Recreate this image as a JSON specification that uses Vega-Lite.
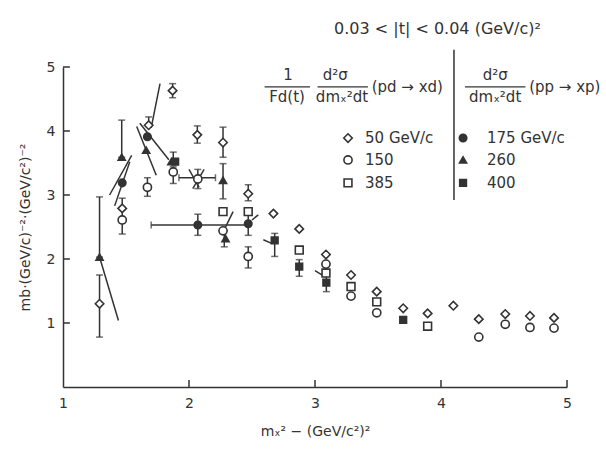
{
  "$schema": "https://vega.github.io/schema/vega-lite/v6.json",
  "width": 504,
  "height": 320,
  "autosize": {"type": "none"},
  "padding": {"left": 63, "top": 67, "right": 39, "bottom": 62},
  "background": "white",
  "title": {"text": "0.03 < |t| < 0.04 (GeV/c)²", "anchor": "start", "dx": 316, "offset": 12, "fontSize": 16, "font": "DejaVu Sans", "fontWeight": "normal", "color": "#333"},
  "config": {
    "view": {"stroke": null},
    "axis": {"domainColor": "#333", "domainWidth": 1.5, "ticks": false, "labelColor": "#333", "titleColor": "#333", "labelFont": "DejaVu Sans", "titleFont": "DejaVu Sans", "labelFontSize": 14, "titleFontSize": 14, "titleFontWeight": "normal", "grid": false}
  },
  "datasets": {
    "pts": [
      {"x": 1.29, "y": 1.30, "series": "50 GeV/c"},
      {"x": 1.47, "y": 2.79, "series": "50 GeV/c"},
      {"x": 1.68, "y": 4.09, "series": "50 GeV/c"},
      {"x": 1.87, "y": 4.63, "series": "50 GeV/c"},
      {"x": 2.066, "y": 3.94, "series": "50 GeV/c"},
      {"x": 2.27, "y": 3.82, "series": "50 GeV/c"},
      {"x": 2.47, "y": 3.02, "series": "50 GeV/c"},
      {"x": 2.67, "y": 2.71, "series": "50 GeV/c"},
      {"x": 2.875, "y": 2.47, "series": "50 GeV/c"},
      {"x": 3.087, "y": 2.07, "series": "50 GeV/c"},
      {"x": 3.286, "y": 1.75, "series": "50 GeV/c"},
      {"x": 3.49, "y": 1.49, "series": "50 GeV/c"},
      {"x": 3.70, "y": 1.23, "series": "50 GeV/c"},
      {"x": 3.894, "y": 1.15, "series": "50 GeV/c"},
      {"x": 4.098, "y": 1.27, "series": "50 GeV/c"},
      {"x": 4.30, "y": 1.06, "series": "50 GeV/c"},
      {"x": 4.51, "y": 1.14, "series": "50 GeV/c"},
      {"x": 4.706, "y": 1.11, "series": "50 GeV/c"},
      {"x": 4.897, "y": 1.08, "series": "50 GeV/c"},
      {"x": 1.47, "y": 2.61, "series": "150"},
      {"x": 1.67, "y": 3.12, "series": "150"},
      {"x": 1.875, "y": 3.36, "series": "150"},
      {"x": 2.07, "y": 3.25, "series": "150"},
      {"x": 2.27, "y": 2.44, "series": "150"},
      {"x": 2.47, "y": 2.04, "series": "150"},
      {"x": 3.087, "y": 1.92, "series": "150"},
      {"x": 3.286, "y": 1.42, "series": "150"},
      {"x": 3.49, "y": 1.16, "series": "150"},
      {"x": 4.30, "y": 0.78, "series": "150"},
      {"x": 4.51, "y": 0.98, "series": "150"},
      {"x": 4.706, "y": 0.93, "series": "150"},
      {"x": 4.897, "y": 0.92, "series": "150"},
      {"x": 2.27, "y": 2.74, "series": "385"},
      {"x": 2.47, "y": 2.74, "series": "385"},
      {"x": 2.875, "y": 2.14, "series": "385"},
      {"x": 3.087, "y": 1.78, "series": "385"},
      {"x": 3.286, "y": 1.57, "series": "385"},
      {"x": 3.49, "y": 1.33, "series": "385"},
      {"x": 3.894, "y": 0.95, "series": "385"},
      {"x": 1.47, "y": 3.19, "series": "175 GeV/c"},
      {"x": 1.67, "y": 3.91, "series": "175 GeV/c"},
      {"x": 2.07, "y": 2.53, "series": "175 GeV/c"},
      {"x": 2.47, "y": 2.55, "series": "175 GeV/c"},
      {"x": 1.29, "y": 2.03, "series": "260"},
      {"x": 1.466, "y": 3.59, "series": "260"},
      {"x": 1.66, "y": 3.70, "series": "260"},
      {"x": 1.86, "y": 3.52, "series": "260"},
      {"x": 2.27, "y": 3.23, "series": "260"},
      {"x": 2.29, "y": 2.32, "series": "260"},
      {"x": 1.89, "y": 3.52, "series": "400"},
      {"x": 2.68, "y": 2.29, "series": "400"},
      {"x": 2.875, "y": 1.88, "series": "400"},
      {"x": 3.09, "y": 1.63, "series": "400"},
      {"x": 3.70, "y": 1.05, "series": "400"}
    ],
    "legendpts": [
      {"x": 3.262, "y": 3.89, "series": "50 GeV/c"},
      {"x": 3.262, "y": 3.547, "series": "150"},
      {"x": 3.262, "y": 3.19, "series": "385"},
      {"x": 4.175, "y": 3.89, "series": "175 GeV/c"},
      {"x": 4.175, "y": 3.547, "series": "260"},
      {"x": 4.175, "y": 3.19, "series": "400"}
    ],
    "verr": [
      {"x": 1.87, "lo": 4.52, "hi": 4.74},
      {"x": 2.066, "lo": 3.81, "hi": 4.08},
      {"x": 2.27, "lo": 3.59, "hi": 4.06},
      {"x": 2.47, "lo": 2.91, "hi": 3.16},
      {"x": 1.875, "lo": 3.18, "hi": 3.44},
      {"x": 1.67, "lo": 2.98, "hi": 3.27},
      {"x": 1.466, "lo": 3.59, "hi": 4.17},
      {"x": 1.47, "lo": 2.39, "hi": 2.95},
      {"x": 1.29, "lo": 2.03, "hi": 2.97},
      {"x": 1.29, "lo": 0.78, "hi": 1.75},
      {"x": 2.27, "lo": 2.94, "hi": 3.49},
      {"x": 2.07, "lo": 2.37, "hi": 2.70},
      {"x": 2.47, "lo": 2.37, "hi": 2.70},
      {"x": 2.47, "lo": 1.86, "hi": 2.19},
      {"x": 2.68, "lo": 2.04, "hi": 2.40},
      {"x": 2.875, "lo": 1.73, "hi": 1.99},
      {"x": 3.09, "lo": 1.49, "hi": 1.80},
      {"x": 2.28, "lo": 2.19, "hi": 2.44},
      {"x": 1.68, "lo": 4.09, "hi": 4.22},
      {"x": 1.875, "lo": 3.52, "hi": 3.67},
      {"x": 2.07, "lo": 3.10, "hi": 3.40}
    ],
    "herr": [
      {"y": 2.53, "xlo": 1.70, "xhi": 2.47},
      {"y": 3.27, "xlo": 1.92, "xhi": 2.21}
    ],
    "slants": [
      {"x1": 1.29, "y1": 2.03, "x2": 1.44, "y2": 1.04},
      {"x1": 1.545, "y1": 3.62, "x2": 1.37, "y2": 3.0},
      {"x1": 1.53, "y1": 3.52, "x2": 1.41, "y2": 2.83},
      {"x1": 1.77, "y1": 4.74, "x2": 1.70, "y2": 4.05},
      {"x1": 1.585, "y1": 4.07, "x2": 1.74, "y2": 3.31},
      {"x1": 1.61, "y1": 4.12, "x2": 1.84, "y2": 3.55},
      {"x1": 2.28, "y1": 2.46, "x2": 2.35, "y2": 2.74},
      {"x1": 2.50, "y1": 2.61, "x2": 2.55, "y2": 2.69},
      {"x1": 2.59, "y1": 2.30, "x2": 2.66, "y2": 2.24},
      {"x1": 3.00, "y1": 1.82, "x2": 3.08, "y2": 1.72},
      {"x1": 2.00, "y1": 3.40, "x2": 2.08, "y2": 3.12},
      {"x1": 2.12, "y1": 3.40, "x2": 2.03, "y2": 3.10}
    ],
    "centertext": [
      {"x": 2.786, "y": 4.875, "label": "1"},
      {"x": 2.778, "y": 4.53, "label": "Fd(t)"},
      {"x": 3.16, "y": 4.875, "label": "d²σ"},
      {"x": 3.214, "y": 4.53, "label": "dmₓ²dt"},
      {"x": 4.43, "y": 4.875, "label": "d²σ"},
      {"x": 4.43, "y": 4.53, "label": "dmₓ²dt"}
    ],
    "lefttext": [
      {"x": 3.45, "y": 4.69, "label": "(pd → xd)"},
      {"x": 4.70, "y": 4.69, "label": "(pp → xp)"},
      {"x": 3.397, "y": 3.89, "label": "50 GeV/c"},
      {"x": 3.397, "y": 3.547, "label": "150"},
      {"x": 3.397, "y": 3.19, "label": "385"},
      {"x": 4.365, "y": 3.89, "label": "175 GeV/c"},
      {"x": 4.365, "y": 3.547, "label": "260"},
      {"x": 4.365, "y": 3.19, "label": "400"}
    ],
    "bars": [
      {"xa": 2.60, "xb": 2.96, "y": 4.69},
      {"xa": 3.02, "xb": 3.42, "y": 4.69},
      {"xa": 4.19, "xb": 4.67, "y": 4.69}
    ],
    "sep": [
      {"x": 4.103, "ya": 2.92, "yb": 5.27}
    ],
    "xticks": [{"v": 2, "a": 0, "b": 0.11}, {"v": 3, "a": 0, "b": 0.11}, {"v": 4, "a": 0, "b": 0.11}, {"v": 5, "a": 0, "b": 0.11}],
    "yticks": [{"v": 1, "a": 1, "b": 1.055}, {"v": 2, "a": 1, "b": 1.055}, {"v": 3, "a": 1, "b": 1.055}, {"v": 4, "a": 1, "b": 1.055}, {"v": 5, "a": 1, "b": 1.055}]
  },
  "layer": [
    {
      "data": {"name": "slants"},
      "mark": {"type": "rule", "color": "#333", "strokeWidth": 1.5},
      "encoding": {
        "x": {"field": "x1", "type": "quantitative", "title": "mₓ² − (GeV/c²)²", "scale": {"domain": [1, 5], "nice": false, "zero": false}, "axis": {"values": [1, 2, 3, 4, 5], "format": "d", "labelPadding": 9, "titlePadding": 14, "labelFlush": false}},
        "y": {"field": "y1", "type": "quantitative", "title": "mb·(GeV/c)⁻²·(GeV/c²)⁻²", "scale": {"domain": [0, 5], "nice": false, "zero": false}, "axis": {"values": [1, 2, 3, 4, 5], "format": "d", "labelPadding": 8, "titlePadding": 14}},
        "x2": {"field": "x2"},
        "y2": {"field": "y2"}
      }
    },
    {
      "data": {"name": "xticks"},
      "mark": {"type": "rule", "color": "#333", "strokeWidth": 1.5},
      "encoding": {
        "x": {"field": "v", "type": "quantitative", "title": "mₓ² − (GeV/c²)²"},
        "y": {"field": "a", "type": "quantitative", "title": "mb·(GeV/c)⁻²·(GeV/c²)⁻²"},
        "y2": {"field": "b"}
      }
    },
    {
      "data": {"name": "yticks"},
      "mark": {"type": "rule", "color": "#333", "strokeWidth": 1.5},
      "encoding": {
        "x": {"field": "a", "type": "quantitative", "title": "mₓ² − (GeV/c²)²"},
        "x2": {"field": "b"},
        "y": {"field": "v", "type": "quantitative", "title": "mb·(GeV/c)⁻²·(GeV/c²)⁻²"}
      }
    },
    {
      "data": {"name": "verr"},
      "mark": {"type": "errorbar", "ticks": {"size": 7, "color": "#333", "thickness": 1.5}, "rule": {"color": "#333", "strokeWidth": 1.5}},
      "encoding": {
        "x": {"field": "x", "type": "quantitative", "title": "mₓ² − (GeV/c²)²"},
        "y": {"field": "lo", "type": "quantitative", "title": "mb·(GeV/c)⁻²·(GeV/c²)⁻²"},
        "y2": {"field": "hi"}
      }
    },
    {
      "data": {"name": "herr"},
      "mark": {"type": "errorbar", "ticks": {"size": 7, "color": "#333", "thickness": 1.5}, "rule": {"color": "#333", "strokeWidth": 1.5}},
      "encoding": {
        "y": {"field": "y", "type": "quantitative", "title": "mb·(GeV/c)⁻²·(GeV/c²)⁻²"},
        "x": {"field": "xlo", "type": "quantitative", "title": "mₓ² − (GeV/c²)²"},
        "x2": {"field": "xhi"}
      }
    },
    {
      "data": {"name": "pts"},
      "mark": {"type": "point", "stroke": "#333", "strokeWidth": 1.6, "opacity": 1},
      "encoding": {
        "x": {"field": "x", "type": "quantitative", "title": "mₓ² − (GeV/c²)²"},
        "y": {"field": "y", "type": "quantitative", "title": "mb·(GeV/c)⁻²·(GeV/c²)⁻²"},
        "shape": {"field": "series", "type": "nominal", "scale": {"domain": ["50 GeV/c", "150", "385", "175 GeV/c", "260", "400"], "range": ["diamond", "circle", "square", "circle", "triangle-up", "square"]}, "legend": null},
        "fill": {"field": "series", "type": "nominal", "scale": {"domain": ["50 GeV/c", "150", "385", "175 GeV/c", "260", "400"], "range": ["white", "white", "white", "#333", "#333", "#333"]}, "legend": null},
        "size": {"field": "series", "type": "nominal", "scale": {"domain": ["50 GeV/c", "150", "385", "175 GeV/c", "260", "400"], "range": [72, 45, 45, 50, 85, 50]}, "legend": null}
      }
    },
    {
      "data": {"name": "legendpts"},
      "mark": {"type": "point", "stroke": "#333", "strokeWidth": 1.6, "opacity": 1},
      "encoding": {
        "x": {"field": "x", "type": "quantitative", "title": "mₓ² − (GeV/c²)²"},
        "y": {"field": "y", "type": "quantitative", "title": "mb·(GeV/c)⁻²·(GeV/c²)⁻²"},
        "shape": {"field": "series", "type": "nominal", "legend": null},
        "fill": {"field": "series", "type": "nominal", "legend": null},
        "size": {"field": "series", "type": "nominal", "legend": null}
      }
    },
    {
      "data": {"name": "bars"},
      "mark": {"type": "rule", "color": "#333", "strokeWidth": 1.2},
      "encoding": {
        "x": {"field": "xa", "type": "quantitative", "title": "mₓ² − (GeV/c²)²"},
        "x2": {"field": "xb"},
        "y": {"field": "y", "type": "quantitative", "title": "mb·(GeV/c)⁻²·(GeV/c²)⁻²"}
      }
    },
    {
      "data": {"name": "sep"},
      "mark": {"type": "rule", "color": "#333", "strokeWidth": 1.5},
      "encoding": {
        "x": {"field": "x", "type": "quantitative", "title": "mₓ² − (GeV/c²)²"},
        "y": {"field": "ya", "type": "quantitative", "title": "mb·(GeV/c)⁻²·(GeV/c²)⁻²"},
        "y2": {"field": "yb"}
      }
    },
    {
      "data": {"name": "centertext"},
      "mark": {"type": "text", "align": "center", "baseline": "middle", "font": "DejaVu Sans", "fontSize": 15, "color": "#333"},
      "encoding": {
        "x": {"field": "x", "type": "quantitative", "title": "mₓ² − (GeV/c²)²"},
        "y": {"field": "y", "type": "quantitative", "title": "mb·(GeV/c)⁻²·(GeV/c²)⁻²"},
        "text": {"field": "label"}
      }
    },
    {
      "data": {"name": "lefttext"},
      "mark": {"type": "text", "align": "left", "baseline": "middle", "font": "DejaVu Sans", "fontSize": 15, "color": "#333"},
      "encoding": {
        "x": {"field": "x", "type": "quantitative", "title": "mₓ² − (GeV/c²)²"},
        "y": {"field": "y", "type": "quantitative", "title": "mb·(GeV/c)⁻²·(GeV/c²)⁻²"},
        "text": {"field": "label"}
      }
    }
  ]
}
